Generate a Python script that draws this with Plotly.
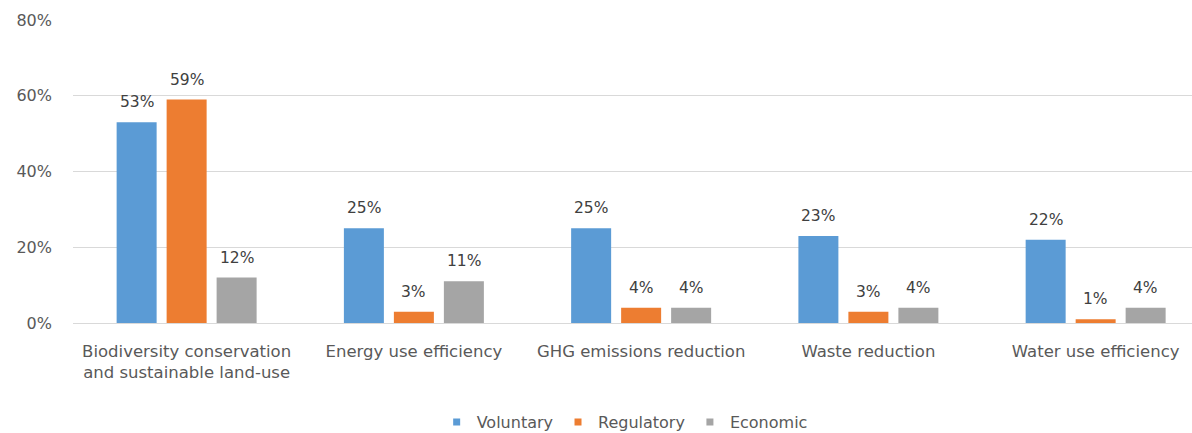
import plotly.graph_objects as go

categories = ["Biodiversity conservation<br>and sustainable land-use", "Energy use efficiency",
              "GHG emissions reduction", "Waste reduction", "Water use efficiency"]
series_names = ["Voluntary", "Regulatory", "Economic"]
voluntary = [53, 25, 25, 23, 22]
regulatory = [59, 3, 4, 3, 1]
economic = [12, 11, 4, 4, 4]
colors = ["#5B9BD5", "#ED7D31", "#A5A5A5"]
y_ticks = [0, 20, 40, 60, 80]
y_tick_labels = ["0%", "20%", "40%", "60%", "80%"]

series = [voluntary, regulatory, economic]
FONT = "'DejaVu Sans', sans-serif"
bargap = 0.34

fig = go.Figure()
for name, vals, col in zip(series_names, series, colors):
    fig.add_trace(go.Bar(name=name, x=categories, y=vals, marker_color=col,
                         marker_line_width=0, showlegend=False))
# legend entries with small square markers
for name, col in zip(series_names, colors):
    fig.add_trace(go.Scatter(name=name, x=[categories[0]], y=[None], mode="markers",
                             marker=dict(symbol="square", size=7, color=col),
                             showlegend=True, hoverinfo="skip"))

slot = (1 - bargap) / 3
for k, vals in enumerate(series):
    for i, v in enumerate(vals):
        fig.add_annotation(x=i + (k - 1) * slot, y=v, xref="x", yref="y",
                           text=f"{v}%", showarrow=False, yanchor="bottom", yshift=9,
                           font=dict(family=FONT, size=15.5, color="#404040"))

fig.update_layout(
    width=1192, height=433,
    margin=dict(l=73, r=0, t=20, b=110),
    paper_bgcolor="white", plot_bgcolor="white",
    barmode="group", bargap=bargap, bargroupgap=0.2,
    font=dict(family=FONT, size=15, color="#595959"),
    showlegend=True,
    legend=dict(orientation="h", x=0.493, xanchor="center", yref="container", y=0.025,
                yanchor="middle", font=dict(family=FONT, size=16, color="#595959"),
                itemwidth=30, traceorder="normal"),
    xaxis=dict(type="category", range=[-0.5, 4.424], showgrid=False, showline=False,
               ticks="", tickfont=dict(family=FONT, size=16.5, color="#595959"),
               ticklabelstandoff=16),
    yaxis=dict(range=[0, 80], tickvals=y_ticks, ticktext=y_tick_labels,
               showgrid=True, gridcolor="#D9D9D9", gridwidth=1, zeroline=True,
               zerolinecolor="#D9D9D9", zerolinewidth=1, showline=False, ticks="",
               tickfont=dict(family=FONT, size=16, color="#595959"),
               ticklabelstandoff=20),
)

fig.write_html("out.html")
